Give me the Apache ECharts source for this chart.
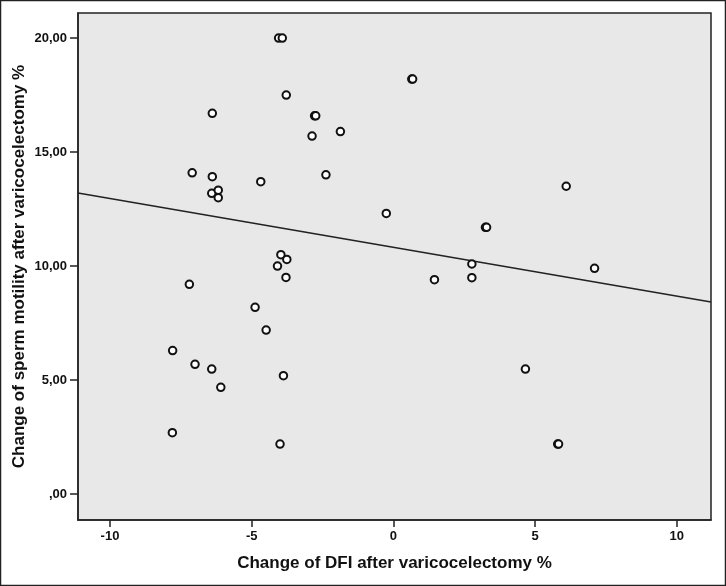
<!DOCTYPE html>
<html><head><meta charset="utf-8">
<script src="https://cdn.jsdelivr.net/npm/echarts@6/dist/echarts.min.js"></script>
<style>html,body{margin:0;padding:0;background:#fff}#c{width:726px;height:586px}</style>
</head><body><div id="c"></div>
<script>
const dfiChange = [-4.05,-3.92,0.65,0.68,-3.78,-6.39,-2.78,-2.74,-2.87,-1.87,-7.1,-6.39,-2.38,-4.68,6.1,-6.41,-6.18,-6.18,-0.25,3.25,3.29,-3.97,-3.76,-4.09,-3.79,-7.2,2.77,2.77,1.45,7.1,-4.88,-4.49,-7.79,-7.0,-6.41,-3.88,4.66,-6.09,-7.8,-4.0,5.8,5.83];
const motilityChange = [20.0,20.0,18.2,18.2,17.5,16.7,16.59,16.59,15.7,15.9,14.09,13.92,14.0,13.7,13.5,13.19,13.33,13.0,12.31,11.7,11.7,10.5,10.29,10.0,9.5,9.2,10.09,9.49,9.4,9.9,8.19,7.19,6.29,5.69,5.48,5.19,5.48,4.68,2.69,2.19,2.19,2.19];
const fitX = [-11.13, 11.21];
const fitY = [13.2, 8.42];
const xTicks = [-10, -5, 0, 5, 10];
const yTicks = [0, 5, 10, 15, 20];
const yTickLabels = [',00', '5,00', '10,00', '15,00', '20,00'];
const xName = 'Change of DFI after varicocelectomy %';
const yName = 'Change of sperm motility after varicocelectomy %';

const chart = echarts.init(document.getElementById('c'), null, {renderer:'canvas'});
const font = 'Liberation Sans, Arial, sans-serif';
chart.setOption({
  animation:false,
  backgroundColor:'#fff',
  graphic:[{type:'rect',shape:{x:0.5,y:0.5,width:725,height:585},style:{fill:'none',stroke:'#222',lineWidth:1.5},silent:true}],
  grid:{left:78,top:13,right:15,bottom:66,outerBoundsMode:'none',containLabel:false,show:true,backgroundColor:'#e8e8e8',borderColor:'#222',borderWidth:1.5},
  xAxis:{type:'value',min:-11.13,max:11.21,
    name:xName,nameLocation:'middle',nameGap:35,nameMoveOverlap:false,
    nameTextStyle:{fontFamily:font,fontWeight:'bold',fontSize:17,color:'#111'},
    axisLine:{show:true,onZero:false,lineStyle:{color:'#222',width:1.5}},
    axisTick:{show:true,length:7,lineStyle:{color:'#222',width:1.5},customValues:xTicks},
    axisLabel:{customValues:xTicks,fontFamily:font,fontWeight:'bold',fontSize:13,color:'#111',margin:10},
    splitLine:{show:false}},
  yAxis:{type:'value',min:-1.14,max:21.1,
    name:yName,nameLocation:'middle',nameGap:50,nameRotate:90,nameMoveOverlap:false,
    nameTextStyle:{fontFamily:font,fontWeight:'bold',fontSize:17,color:'#111'},
    axisLine:{show:true,onZero:false,lineStyle:{color:'#222',width:1.5}},
    axisTick:{show:true,length:8,lineStyle:{color:'#222',width:1.5},customValues:yTicks},
    axisLabel:{customValues:yTicks,fontFamily:font,fontWeight:'bold',fontSize:13,color:'#111',margin:11,
      formatter:v=>{const i=yTicks.indexOf(v);return i>=0?yTickLabels[i]:'';}},
    splitLine:{show:false}},
  series:[
    {type:'line',data:fitX.map((x,i)=>[x,fitY[i]]),symbol:'none',lineStyle:{color:'#222',width:1.5},z:2},
    {type:'scatter',data:dfiChange.map((x,i)=>[x,motilityChange[i]]),symbol:'circle',symbolSize:7.5,
      itemStyle:{color:'#fff',borderColor:'#111',borderWidth:2,opacity:1},z:3}
  ]
});
</script></body></html>
